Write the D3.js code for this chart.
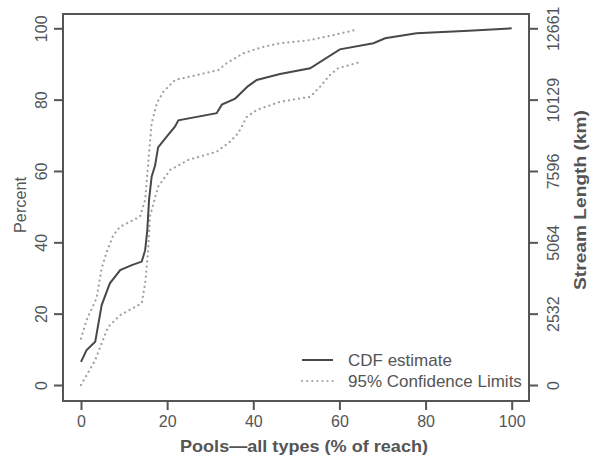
<!DOCTYPE html>
<html><head><meta charset="utf-8">
<script src="https://cdn.jsdelivr.net/npm/d3@7"></script>
<style>
body{margin:0;background:#fff;}
text{font-family:"Liberation Sans",Arial,sans-serif;fill:#555;}
</style></head>
<body><svg id="c" width="593" height="460"></svg>
<script>
const cdfX = [0,1.3,3.3,4.8,6.7,9.1,11.8,14.1,14.9,15.4,15.8,16.4,17.2,17.9,19.9,21.8,22.6,31.5,32.7,35.8,38.8,40.8,46.2,53.2,60.1,67.9,70.6,77.9,90,100];
const cdfY = [6.5,9.8,12.1,22.4,28.5,32.2,33.6,34.6,37.8,43.5,51.9,58.4,61.5,66.6,69.6,72.4,74.2,76.2,78.6,80.3,83.8,85.5,87.2,88.8,94.1,95.8,97.2,98.6,99.3,100];
const upX = [0,1.3,3.6,4.8,6.0,7.5,9.1,13.7,14.9,15.6,16.4,17.6,19.1,21.8,26.9,31.9,33.8,37.7,42.3,46.2,53.2,58.6,63.6];
const upY = [13,18.2,24.3,32.7,37.4,42,44.4,47.2,51.9,62.1,73.4,79,82.2,85.5,86.9,88.3,90.2,93,94.8,95.8,96.7,98.1,99.5];
const loX = [0,3.3,4.8,6.3,9.1,14.1,14.9,15.6,16.0,17.9,20.7,24.9,31.5,34.6,36.5,38.5,40.8,46.2,53.2,55.5,57.8,59.7,64.4];
const loY = [0,7,11.7,16.3,19.6,22.9,28.5,37.8,47.2,55.6,60.3,63.1,65.4,68.2,70.6,75.2,77.1,79.4,80.8,83.6,86.9,88.8,90.4];
const xTicks = [0,20,40,60,80,100];
const yTicks = [0,20,40,60,80,100];
const kmTicks = [0,2532,5064,7596,10129,12661];
const legendLabels = ["CDF estimate","95% Confidence Limits"];

const svg = d3.select("#c");
const box = {l:63, t:14, r:529, b:401};
const x = d3.scaleLinear().domain([0,100]).range([81,511.7]);
const y = d3.scaleLinear().domain([0,100]).range([385,28.3]);
const yk = d3.scaleLinear().domain([0,12661]).range([385,28.3]);

const line = d3.line().x(d=>x(d[0])).y(d=>y(d[1]));
const zip = (a,b)=>a.map((v,i)=>[v,b[i]]);

// CI lines
[zip(upX,upY), zip(loX,loY)].forEach(pts=>{
  svg.append("path").attr("d",line(pts)).attr("fill","none")
    .attr("stroke","#a0a0a0").attr("stroke-width",2.2)
    .attr("stroke-dasharray","0.1,5").attr("stroke-linecap","round");
});
svg.append("path").attr("d",line(zip(cdfX,cdfY))).attr("fill","none")
  .attr("stroke","#484848").attr("stroke-width",2);

// frame
svg.append("rect").attr("x",box.l).attr("y",box.t).attr("width",box.r-box.l).attr("height",box.b-box.t)
  .attr("fill","none").attr("stroke","#555").attr("stroke-width",2);

// axes
const fs = 16;
const bx = svg.append("g").attr("transform",`translate(0,${box.b})`)
  .call(d3.axisBottom(x).tickValues(xTicks).tickSize(9).tickPadding(6).tickSizeOuter(0));
const ly = svg.append("g").attr("transform",`translate(${box.l},0)`)
  .call(d3.axisLeft(y).tickValues(yTicks).tickSize(9).tickSizeOuter(0));
const ry = svg.append("g").attr("transform",`translate(${box.r},0)`)
  .call(d3.axisRight(yk).tickValues(kmTicks).tickFormat(d3.format("d")).tickSize(9).tickSizeOuter(0));
[bx,ly,ry].forEach(g=>{
  g.select(".domain").remove();
  g.selectAll(".tick line").attr("stroke","#555").attr("stroke-width",2);
  g.selectAll("text").style("font-size",fs+"px").attr("fill","#555").style("font-family","Liberation Sans, Arial, sans-serif");
});
ly.selectAll(".tick text").attr("x",null).attr("dy",null).attr("text-anchor","middle")
  .attr("transform","translate(-22,0) rotate(-90)").attr("dy","0.35em");
ry.selectAll(".tick text").attr("x",null).attr("dy",null).attr("text-anchor","middle")
  .attr("transform","translate(24,0) rotate(-90)").attr("dy","0.35em");

// axis titles
svg.append("text").attr("x",(box.l+box.r)/2+8).attr("y",452).attr("text-anchor","middle")
  .style("font-size","17px").style("font-weight","bold").attr("fill","#666").attr("textLength",248).attr("lengthAdjust","spacingAndGlyphs")
  .text("Pools\u2014all types (% of reach)");
svg.append("text").attr("transform",`translate(20,205) rotate(-90)`).attr("text-anchor","middle")
  .attr("dy","0.35em").style("font-size","16px").attr("textLength",56).attr("lengthAdjust","spacingAndGlyphs").text("Percent");
svg.append("text").attr("transform",`translate(580,200) rotate(-90)`).attr("text-anchor","middle")
  .attr("dy","0.35em").style("font-size","16px").style("font-weight","bold").attr("fill","#666")
  .attr("textLength",180).attr("lengthAdjust","spacingAndGlyphs").text("Stream Length (km)");

// legend
const lg = svg.append("g");
lg.append("line").attr("x1",302).attr("x2",333).attr("y1",360).attr("y2",360).attr("stroke","#484848").attr("stroke-width",2);
lg.append("line").attr("x1",302).attr("x2",333).attr("y1",381).attr("y2",381).attr("stroke","#a0a0a0").attr("stroke-width",2)
  .attr("stroke-dasharray","0.1,5").attr("stroke-linecap","round");
legendLabels.forEach((t,i)=>{
  lg.append("text").attr("x",348).attr("y",360+i*21).attr("dy","0.35em").style("font-size","17px").text(t);
});
</script></body></html>
